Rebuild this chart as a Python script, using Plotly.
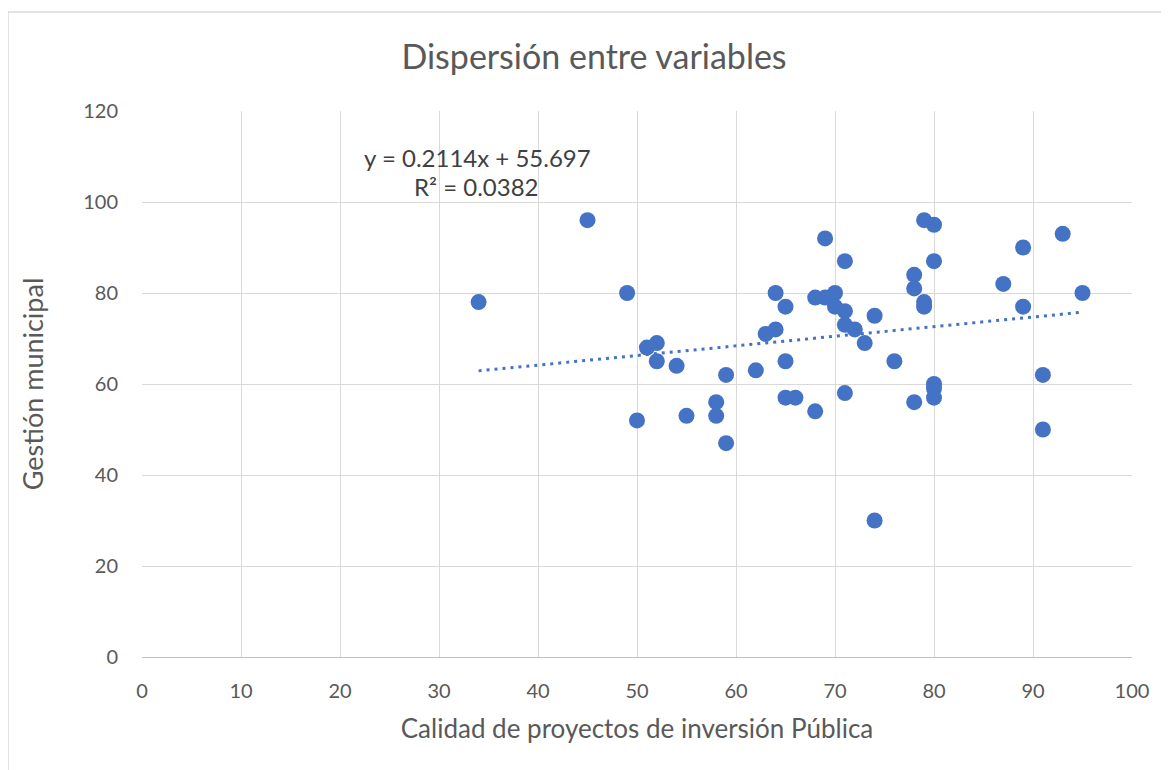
import plotly.graph_objects as go

calidad = [34, 45, 49, 50, 51, 52, 52, 54, 55, 58, 58, 59, 59, 62, 63, 64, 64, 65, 65, 65,
           66, 68, 68, 69, 69, 70, 70, 71, 71, 71, 72, 71, 73, 74, 74, 76, 78, 78, 78, 79,
           79, 79, 80, 80, 80, 80, 80, 87, 89, 89, 91, 91, 93, 95]
gestion = [78, 96, 80, 52, 68, 69, 65, 64, 53, 56, 53, 62, 47, 63, 71, 72, 80, 77, 65, 57,
           57, 79, 54, 79, 92, 80, 77, 87, 76, 73, 72, 58, 69, 75, 30, 65, 84, 81, 56, 96,
           78, 77, 95, 87, 60, 59, 57, 82, 90, 77, 62, 50, 93, 80]

slope = 0.2114
intercept = 55.697
r2 = 0.0382

x_tr = [min(calidad), max(calidad)]
y_tr = [slope * v + intercept for v in x_tr]

blue = "#4472C4"
gray_text = "#595959"
grid = "#d9d9d9"
font_family = "Lato, 'Open Sans', sans-serif"

# page body has an 8px offset; plot area in the screenshot: x 142..1132, y 111..657
fig = go.Figure()
fig.add_trace(go.Scatter(x=x_tr, y=y_tr, mode="lines",
                         line=dict(color=blue, width=3, dash="3px,5px"),
                         hoverinfo="skip", showlegend=False))
fig.add_trace(go.Scatter(x=calidad, y=gestion, mode="markers",
                         marker=dict(color=blue, size=16, line=dict(width=0)),
                         showlegend=False))

fig.update_layout(
    width=1169, height=770,
    margin=dict(l=134, r=45, t=103, b=121),
    paper_bgcolor="white", plot_bgcolor="white",
    font=dict(family=font_family, color=gray_text),
    title=dict(text="Dispersión entre variables", x=(594 - 8) / 1169, xanchor="center",
               y=1 - 49 / 770, yanchor="middle",
               font=dict(size=34, color=gray_text, family=font_family)),
    xaxis=dict(range=[0, 100], dtick=10, tick0=0, showgrid=True, gridcolor=grid, gridwidth=1.3,
               zeroline=False, showline=True, linecolor="#bfbfbf", linewidth=1.3,
               ticks="", ticklabelstandoff=16,
               tickfont=dict(size=20, color=gray_text),
               title=dict(text="Calidad de proyectos de inversión Pública",
                          font=dict(size=26, color=gray_text), standoff=18)),
    yaxis=dict(range=[0, 120], dtick=20, tick0=0, showgrid=True, gridcolor=grid, gridwidth=1.3,
               zeroline=False, showline=False,
               ticks="", ticklabelstandoff=23,
               tickfont=dict(size=20, color=gray_text),
               title=dict(text="Gestión municipal",
                          font=dict(size=27, color=gray_text), standoff=31)),
    annotations=[
        dict(x=(477 - 142) / 990, y=(657 - 157) / 546, xref="paper", yref="paper",
             text=f"y = {slope}x + {intercept}", showarrow=False,
             font=dict(size=24, color="#404040"), xanchor="center", yanchor="middle"),
        dict(x=(476 - 142) / 990, y=(657 - 187) / 546, xref="paper", yref="paper",
             text=f"R² = {r2}", showarrow=False,
             font=dict(size=24, color="#404040"), xanchor="center", yanchor="middle"),
    ],
    shapes=[
        dict(type="line", xref="paper", yref="paper",
             x0=(8 - 142) / 990, x1=(8 - 142) / 990,
             y0=(657 - 12) / 546, y1=(657 - 800) / 546,
             line=dict(color=grid, width=1.5)),
        dict(type="line", xref="paper", yref="paper",
             x0=(8 - 142) / 990, x1=(1200 - 142) / 990,
             y0=(657 - 12) / 546, y1=(657 - 12) / 546,
             line=dict(color=grid, width=1.5)),
    ],
)

fig.write_html("out.html")
